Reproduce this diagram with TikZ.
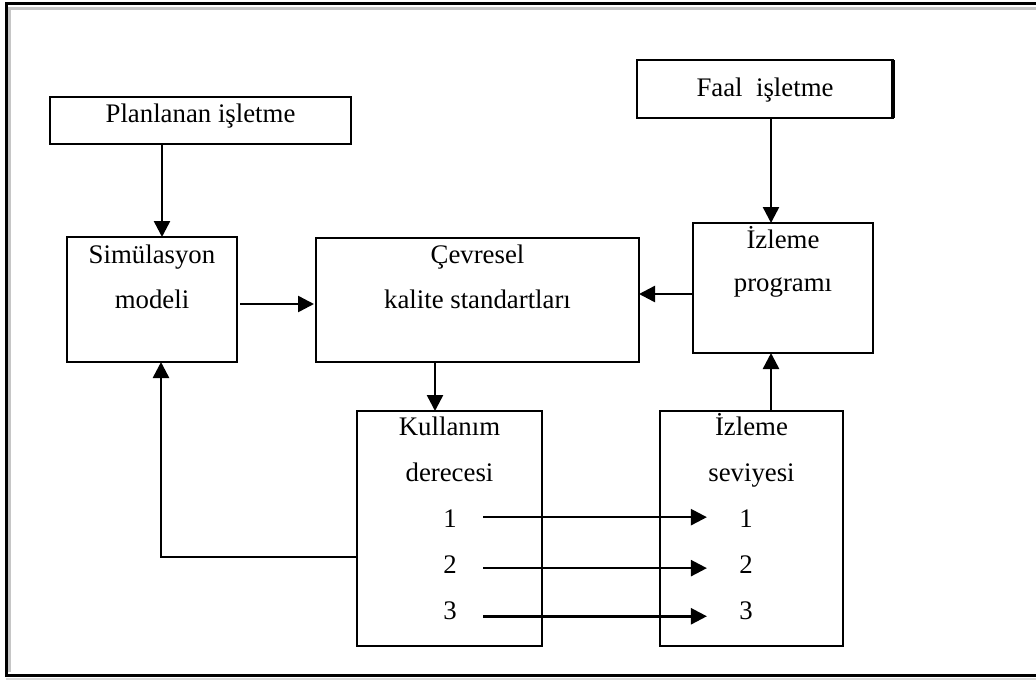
\documentclass[tikz,border=0pt]{standalone}
\usepackage{fontspec}
\setmainfont{Liberation Serif}
\usetikzlibrary{calc,arrows.meta}
\begin{document}
\begin{tikzpicture}[x=0.5pt,y=-0.5pt,
  box/.style={draw,line width=1.25pt,inner sep=0pt,outer sep=0pt},
  txt/.style={inner sep=0pt,anchor=base,font=\fontsize{13.4pt}{15pt}\selectfont},
  arr/.style={line width=1.25pt,-{Triangle[length=8pt,width=8pt]}}]
\useasboundingbox (0,0) rectangle (1036,680);
% frame
\draw[gray!45,line width=1.2pt] (9.5,672) -- (9.5,8.5) -- (1036,8.5);
\draw[gray!30,line width=1pt] (6,679) -- (1036,679);
\draw[line width=1.5pt] (1036,3) -- (6,3) -- (6,675) -- (1036,675);
% boxes
\node[box,minimum width=150.5pt,minimum height=23.5pt] (plan) at (200.5,120.5) {};
\node[box,minimum width=128pt,minimum height=29pt] (faal) at (765,89) {};
\draw[line width=2pt] (faal.north east) -- (faal.south east);
\node[box,minimum width=85pt,minimum height=62.5pt] (sim) at (152,299.5) {};
\node[box,minimum width=161.5pt,minimum height=62pt] (cev) at (477.5,300) {};
\node[box,minimum width=90pt,minimum height=65pt] (izp) at (783,288) {};
\node[box,minimum width=92.5pt,minimum height=117.5pt] (kul) at (449.5,528.5) {};
\node[box,minimum width=91.5pt,minimum height=117.5pt] (izs) at (751.5,528.5) {};
% texts
\node[txt] (tplan) at (200.5,122) {Planlanan işletme};
\node[txt] (tfaal) at (765,96) {Faal\ \ işletme};
\node[txt] (tsim1) at (152,263) {Simülasyon};
\node[txt] (tsim2) at (152,308) {modeli};
\node[txt] (tcev1) at (477.5,263) {Çevresel};
\node[txt] (tcev2) at (477.5,308) {kalite standartları};
\node[txt] (tizp1) at (783,248) {İzleme};
\node[txt] (tizp2) at (783,291) {programı};
\node[txt] (tkul1) at (449.5,435) {Kullanım};
\node[txt] (tkul2) at (449.5,481) {derecesi};
\node[txt] (tizs1) at (751.5,435) {İzleme};
\node[txt] (tizs2) at (751.5,481) {seviyesi};
\node[txt] (k1) at (450,527) {1};
\node[txt] (k2) at (450,573) {2};
\node[txt] (k3) at (450,619) {3};
\node[txt] (r1) at (746,527) {1};
\node[txt] (r2) at (746,573) {2};
\node[txt] (r3) at (746,619) {3};
% connectors
\coordinate (a1) at ($(sim.north)+(10,0)$);
\draw[arr] (a1 |- plan.south) -- (a1);
\coordinate (a2) at ($(faal.south)+(6,0)$);
\draw[arr] (a2) -- (a2 |- izp.north);
\coordinate (a3) at ($(sim.east)+(3,4.5)$);
\draw[arr,shorten >=1pt] (a3) -- (a3 -| cev.west);
\coordinate (a4) at ($(izp.west)+(0,6)$);
\draw[arr] (a4) -- (a4 -| cev.east);
\coordinate (a5) at ($(kul.north)+(-14.5,0)$);
\draw[arr] (a5 |- cev.south) -- (a5);
\coordinate (a6) at ($(izs.north)+(19.5,0)$);
\draw[arr] (a6) -- (a6 |- izp.south);
\coordinate (a7) at ($(kul.west)+(0,28.5)$);
\coordinate (a7b) at ($(sim.south)+(9,0)$);
\draw[arr] (a7) -| (a7b);
\draw[arr] ($(k1.east)+(26,-1)$) -- ($(r1.west)+(-32,-1)$);
\draw[arr] ($(k2.east)+(26,4)$) -- ($(r2.west)+(-32,4)$);
\draw[arr] ($(k3.east)+(26,6)$) -- ($(r3.west)+(-32,6)$);
\end{tikzpicture}
\end{document}
